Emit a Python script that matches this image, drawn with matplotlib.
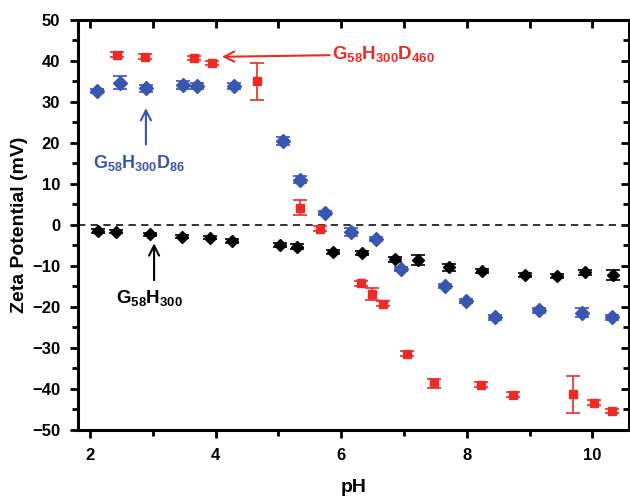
import numpy as np
import matplotlib.pyplot as plt
from matplotlib.ticker import MultipleLocator

plt.rcParams['font.family'] = ['Liberation Sans', 'DejaVu Sans']
plt.rcParams['font.weight'] = 'bold'
plt.rcParams['mathtext.fontset'] = 'custom'
plt.rcParams['mathtext.rm'] = 'Liberation Sans:bold'
plt.rcParams['mathtext.bf'] = 'Liberation Sans:bold'

# G58H300D460 (red squares)
ph_d460 = [2.43, 2.88, 3.66, 3.94, 4.66, 5.34, 5.67, 6.31, 6.49, 6.67,
           7.05, 7.48, 8.22, 8.74, 9.70, 10.02, 10.32]
zeta_d460 = [41.5, 41.0, 40.7, 39.5, 35.0, 4.2, -1.0, -14.3, -16.9, -19.3,
             -31.4, -38.7, -39.0, -41.5, -41.3, -43.4, -45.4]
err_d460 = [0.6, 0.6, 0.6, 0.5, 4.5, 1.8, 0.6, 0.5, 1.5, 0.6,
            0.5, 1.0, 0.6, 0.6, 4.5, 0.6, 0.5]

# G58H300D86 (blue diamonds)
ph_d86 = [2.11, 2.48, 2.89, 3.48, 3.70, 4.30, 5.07, 5.34, 5.74, 6.16,
          6.55, 6.96, 7.65, 7.99, 8.45, 9.15, 9.83, 10.32]
zeta_d86 = [32.7, 34.7, 33.3, 34.1, 33.9, 33.9, 20.5, 11.0, 3.0, -1.7,
            -3.5, -10.8, -15.0, -18.5, -22.6, -20.8, -21.4, -22.6]
err_d86 = [0.5, 1.5, 0.8, 0.9, 0.8, 0.8, 1.0, 0.8, 0.5, 1.0,
           0.5, 0.5, 0.5, 0.5, 0.6, 0.6, 1.0, 0.6]

# G58H300 (black)
ph_h300 = [2.13, 2.41, 2.96, 3.46, 3.91, 4.26, 5.02, 5.29, 5.87, 6.33,
           6.85, 7.22, 7.71, 8.25, 8.93, 9.43, 9.89, 10.33]
zeta_h300 = [-1.5, -1.7, -2.3, -2.9, -3.1, -3.9, -4.9, -5.3, -6.6, -6.9,
             -8.4, -8.6, -10.4, -11.2, -12.2, -12.4, -11.6, -12.2]
err_h300 = [0.4, 0.4, 0.4, 0.4, 0.4, 0.5, 0.4, 0.6, 0.5, 0.5,
            0.6, 1.2, 0.9, 0.5, 0.5, 0.5, 0.6, 1.2]

fig = plt.figure(figsize=(6.3, 4.98), dpi=100)
ax = fig.add_axes([0.124, 0.137, 0.874, 0.823])

ax.axhline(0, color='#222222', ls=(0, (4, 3)), lw=1.3, zorder=1)

ax.errorbar(ph_h300, zeta_h300, yerr=err_h300, fmt='D', color='black',
            ms=6, capsize=5, elinewidth=1.2, capthick=1.2, zorder=3)
ax.errorbar(ph_d86, zeta_d86, yerr=err_d86, fmt='D', color='#3a56b0',
            ms=7, capsize=5, elinewidth=1.2, capthick=1.2, zorder=3)
ax.errorbar(ph_d460, zeta_d460, yerr=err_d460, fmt='s', color='#ee2a24',
            ms=6, capsize=5, elinewidth=1.2, capthick=1.2, zorder=3)

ax.set_xlim(1.81, 10.58)
ax.set_ylim(-50, 50)
ax.xaxis.set_major_locator(MultipleLocator(2))
ax.xaxis.set_minor_locator(MultipleLocator(1))
ax.yaxis.set_major_locator(MultipleLocator(10))
ax.yaxis.set_minor_locator(MultipleLocator(5))

for s in ax.spines.values():
    s.set_linewidth(2.2)

ax.tick_params(axis='both', which='major', labelsize=12, width=2, length=6,
               direction='out', pad=7)
ax.tick_params(axis='both', which='minor', width=2, length=4, direction='out')

# inward ticks on top and right
top = ax.secondary_xaxis('top')
top.xaxis.set_major_locator(MultipleLocator(1))
top.tick_params(direction='in', length=6, width=2, labeltop=False)
right = ax.secondary_yaxis('right')
right.yaxis.set_major_locator(MultipleLocator(10))
right.yaxis.set_minor_locator(MultipleLocator(5))
right.tick_params(which='major', direction='in', length=6, width=2, labelright=False)
right.tick_params(which='minor', direction='in', length=4, width=2)

ax.set_xlabel('pH', fontsize=14, fontweight='bold', labelpad=12)
ax.set_ylabel('Zeta Potential (mV)', fontsize=14, fontweight='bold', labelpad=3)

# annotations
ax.annotate(r'$\mathbf{G_{58}H_{300}D_{460}}$', xy=(4.1, 41.0), xytext=(5.86, 41.6),
            color='#ee2a24', fontsize=13.5, va='center', ha='left',
            arrowprops=dict(arrowstyle='->', color='#ee2a24', lw=1.5,
                            mutation_scale=18, shrinkA=0, shrinkB=0))
ax.annotate('', xy=(2.89, 28.5), xytext=(2.89, 19.6),
            arrowprops=dict(arrowstyle='->', color='#3a56b0', lw=1.5,
                            mutation_scale=18, shrinkA=0, shrinkB=0))
ax.text(2.05, 15.2, r'$\mathbf{G_{58}H_{300}D_{86}}$', color='#3a56b0',
        fontsize=13, va='center', ha='left')
ax.annotate('', xy=(3.02, -4.5), xytext=(3.02, -13.5),
            arrowprops=dict(arrowstyle='->', color='black', lw=1.5,
                            mutation_scale=18, shrinkA=0, shrinkB=0))
ax.text(2.42, -17.8, r'$\mathbf{G_{58}H_{300}}$', color='black',
        fontsize=13.5, va='center', ha='left')

plt.savefig('out.png', dpi=100)
